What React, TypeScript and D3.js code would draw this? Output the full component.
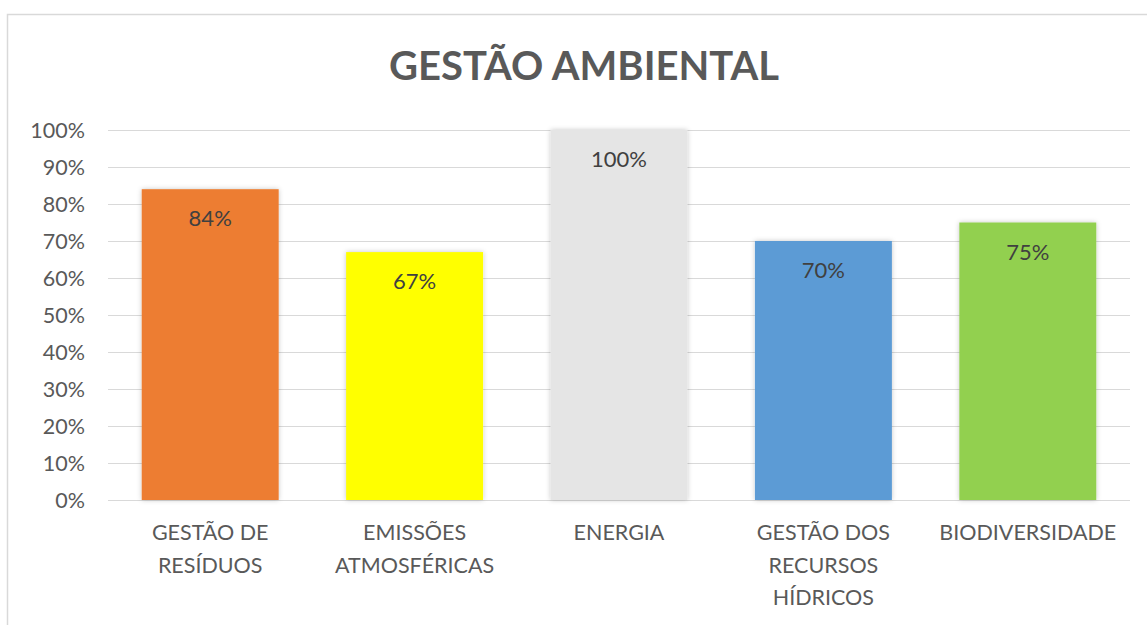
import React from "react";
import * as d3 from "d3";

const categories = ["GESTÃO DE RESÍDUOS", "EMISSÕES ATMOSFÉRICAS", "ENERGIA", "GESTÃO DOS RECURSOS HÍDRICOS", "BIODIVERSIDADE"];
const labelLines = [["GESTÃO DE", "RESÍDUOS"], ["EMISSÕES", "ATMOSFÉRICAS"], ["ENERGIA"], ["GESTÃO DOS", "RECURSOS", "HÍDRICOS"], ["BIODIVERSIDADE"]];
const values = [0.84, 0.67, 1.0, 0.70, 0.75];
const colors = ["#ED7D31", "#FFFF00", "#E5E5E5", "#5B9BD5", "#92D050"];
const yTicks = [0, 0.1, 0.2, 0.3, 0.4, 0.5, 0.6, 0.7, 0.8, 0.9, 1.0];

const W = 1147, H = 625;
const left = 108, right = 1130, top = 130, bottom = 500;
const font = "Lato, 'Open Sans', sans-serif";
const textColor = "#595959";

export default function App() {
  const x = d3.scaleBand<string>().domain(categories).range([left, right]).paddingInner(0.33).paddingOuter(0.165);
  const y = d3.scaleLinear().domain([0, 1]).range([bottom, top]);
  const fmt = d3.format(".0%");
  return (
    <svg width={W} height={H} style={{ position: "absolute", left: 0, top: 0, background: "#fff" }}>
      <defs>
        <filter id="sh" x="-10%" y="-10%" width="120%" height="120%">
          <feDropShadow dx="0" dy="0" stdDeviation="2.5" floodColor="#000" floodOpacity="0.22" />
        </filter>
      </defs>
      <rect x={7.5} y={14.5} width={1200} height={700} fill="#fff" stroke="#d9d9d9" strokeWidth={1.5} />
      <text x={584} y={80} textAnchor="middle" fontFamily={font} fontWeight={700} fontSize={40} fill={textColor}>GESTÃO AMBIENTAL</text>
      {yTicks.map((t) => (
        <g key={t}>
          <line x1={left} x2={right} y1={Math.round(y(t)) + 0.5} y2={Math.round(y(t)) + 0.5} stroke="#d9d9d9" strokeWidth={1.2} />
          <text x={85} y={y(t) + 7.5} textAnchor="end" fontFamily={font} fontSize={21.5} fill={textColor}>{fmt(t)}</text>
        </g>
      ))}
      {categories.map((c, i) => (
        <g key={c}>
          <rect x={x(c)} y={y(values[i])} width={x.bandwidth()} height={bottom - y(values[i])} fill={colors[i]} filter="url(#sh)" />
          <text x={x(c)! + x.bandwidth() / 2} y={y(values[i]) + 37} textAnchor="middle" fontFamily={font} fontSize={22} fill="#404040">{fmt(values[i])}</text>
          {labelLines[i].map((l, j) => (
            <text key={j} x={x(c)! + x.bandwidth() / 2} y={540 + j * 32.5} textAnchor="middle" fontFamily={font} fontSize={21.5} fill={textColor}>{l}</text>
          ))}
        </g>
      ))}
    </svg>
  );
}
